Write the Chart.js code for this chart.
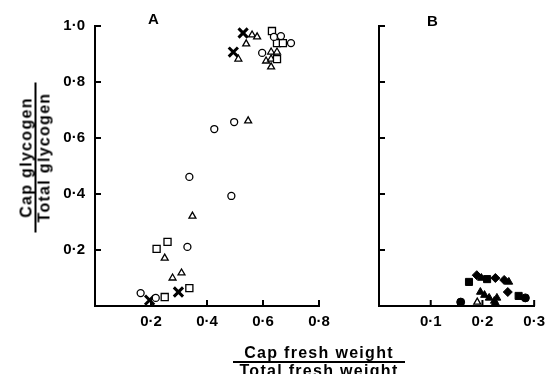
<!DOCTYPE html>
<html>
<head>
<meta charset="utf-8">
<script src="https://cdn.jsdelivr.net/npm/chart.js@4.4.1/dist/chart.umd.min.js"></script>
<style>
  body { margin: 0; background: #fff; width: 552px; height: 374px; overflow: hidden; position: relative; font-family: "Liberation Sans", Arial, sans-serif; }
  canvas { position: absolute; top: 0; }
  #chartA { left: 0; }
  #chartB { left: 330px; }
  .lbl { position: absolute; font-weight: bold; color: #000; }
  .panel { font-size: 15px; }
  .frac { text-align: center; font-size: 16px; letter-spacing: 1.3px; line-height: 15px; white-space: nowrap; }
  .frac .num { border-bottom: 2px solid #000; padding-bottom: 1px; display: inline-block; width: 100%; }
  #ytitle { left: -40px; top: 141px; width: 150px; transform: rotate(-90deg); }
  #xtitle { left: 233px; top: 345px; width: 172px; }
</style>
</head>
<body>
<canvas id="chartA" width="360" height="374"></canvas>
<canvas id="chartB" width="222" height="374"></canvas>
<div class="lbl panel" style="left:148px;top:10px;">A</div>
<div class="lbl panel" style="left:427px;top:12px;">B</div>
<div class="lbl frac" id="ytitle"><span class="num">Cap glycogen</span><br>Total glycogen</div>
<div class="lbl frac" id="xtitle"><span class="num">Cap fresh weight</span><br>Total fresh weight</div>
<script>
// panel A (open symbols)
const aCircleX = [0.639, 0.664, 0.70, 0.597, 0.426, 0.497, 0.337, 0.487, 0.33, 0.217, 0.163];
const aCircleY = [0.961, 0.964, 0.939, 0.904, 0.632, 0.657, 0.461, 0.393, 0.211, 0.029, 0.046];
const aSquareX = [0.632, 0.65, 0.671, 0.65, 0.259, 0.22, 0.337, 0.249];
const aSquareY = [0.982, 0.939, 0.939, 0.882, 0.229, 0.204, 0.064, 0.032];
const aTriX = [0.561, 0.579, 0.54, 0.512, 0.629, 0.65, 0.611, 0.629, 0.629, 0.547, 0.348, 0.249, 0.277, 0.309];
const aTriY = [0.968, 0.961, 0.936, 0.882, 0.907, 0.907, 0.875, 0.882, 0.854, 0.661, 0.321, 0.171, 0.10, 0.118];
const aCrossX = [0.529, 0.494, 0.298, 0.195];
const aCrossY = [0.975, 0.907, 0.05, 0.021];

// panel B (mostly filled symbols)
const bCircleX = [0.158, 0.283];
const bCircleY = [0.014, 0.029];
const bOpenTriX = [0.19];
const bOpenTriY = [0.014];
const bSquareX = [0.174, 0.209, 0.27];
const bSquareY = [0.086, 0.096, 0.036];
const bDiamondX = [0.189, 0.225, 0.249, 0.242];
const bDiamondY = [0.11, 0.10, 0.05, 0.093];
const bTriX = [0.198, 0.196, 0.204, 0.213, 0.223, 0.228, 0.225, 0.251];
const bTriY = [0.10, 0.05, 0.039, 0.029, 0.018, 0.029, 0.011, 0.086];

const yTicks = [0.2, 0.4, 0.6, 0.8, 1.0];
const aXTicks = [0.2, 0.4, 0.6, 0.8];
const bXTicks = [0.1, 0.2, 0.3];

const pts = (xs, ys) => xs.map((x, i) => ({ x: x, y: ys[i] }));
const fmt = v => v.toFixed(1).replace('.', '\u00b7');

function ds(xs, ys, style, r, filled, bw) {
  return {
    data: pts(xs, ys),
    pointStyle: style,
    pointRadius: r,
    pointBorderWidth: bw,
    pointBorderColor: '#000',
    pointBackgroundColor: filled ? '#000' : '#fff',
    showLine: false
  };
}

// tick marks pointing into the plot area
const inwardTicks = {
  id: 'inwardTicks',
  afterDraw(chart) {
    const ctx = chart.ctx, a = chart.chartArea;
    ctx.save();
    ctx.strokeStyle = '#000';
    ctx.lineWidth = 2;
    const xs = chart.scales.x, ys = chart.scales.y;
    xs.ticks.forEach(t => {
      if (t.value <= xs.min) return;
      const px = xs.getPixelForValue(t.value);
      ctx.beginPath(); ctx.moveTo(px, a.bottom); ctx.lineTo(px, a.bottom - 6); ctx.stroke();
    });
    ys.ticks.forEach(t => {
      if (t.value <= ys.min) return;
      const py = ys.getPixelForValue(t.value);
      ctx.beginPath(); ctx.moveTo(a.left, py); ctx.lineTo(a.left + 6, py); ctx.stroke();
    });
    ctx.restore();
  }
};

function makeChart(id, datasets, xMax, xTicks, yWidth, padRight, showYLabels) {
  const font = { family: '"Liberation Sans", Arial, sans-serif', size: 15, weight: 'bold' };
  return new Chart(document.getElementById(id), {
    type: 'scatter',
    data: { datasets: datasets },
    plugins: [inwardTicks],
    options: {
      responsive: false,
      animation: false,
      devicePixelRatio: 1,
      layout: { padding: { top: 26, right: padRight, left: 0, bottom: 0 } },
      plugins: { legend: { display: false }, tooltip: { enabled: false } },
      scales: {
        x: {
          type: 'linear', min: 0, max: xMax,
          afterBuildTicks: s => { s.ticks = [{ value: 0 }].concat(xTicks.map(v => ({ value: v }))); },
          afterFit: s => { s.height = 68; },
          grid: { display: false, drawTicks: false },
          border: { display: true, color: '#000', width: 2 },
          ticks: { color: '#000', font: font, padding: 7, maxRotation: 0, callback: v => v === 0 ? '' : fmt(v) }
        },
        y: {
          type: 'linear', min: 0, max: 1,
          afterBuildTicks: s => { s.ticks = [{ value: 0 }].concat(yTicks.map(v => ({ value: v }))); },
          afterFit: s => { s.width = yWidth; },
          grid: { display: false, drawTicks: false },
          border: { display: true, color: '#000', width: 2 },
          ticks: { color: '#000', font: font, padding: 10, callback: v => (!showYLabels || v === 0) ? '' : fmt(v) }
        }
      }
    }
  });
}

makeChart('chartA', [
  ds(aCircleX, aCircleY, 'circle', 3.5, false, 1.3),
  ds(aSquareX, aSquareY, 'rect', 5, false, 1.3),
  ds(aTriX, aTriY, 'triangle', 4, false, 1.3),
  ds(aCrossX, aCrossY, 'crossRot', 6.5, false, 3)
], 0.8, aXTicks, 95, 41, true);

makeChart('chartB', [
  ds(bCircleX, bCircleY, 'circle', 4, true, 1),
  ds(bOpenTriX, bOpenTriY, 'triangle', 4, false, 1.3),
  ds(bSquareX, bSquareY, 'rect', 5, true, 1),
  ds(bDiamondX, bDiamondY, 'rectRot', 4.5, true, 1),
  ds(bTriX, bTriY, 'triangle', 4.5, true, 1)
], 0.3, bXTicks, 49, 12, false);
</script>
</body>
</html>
